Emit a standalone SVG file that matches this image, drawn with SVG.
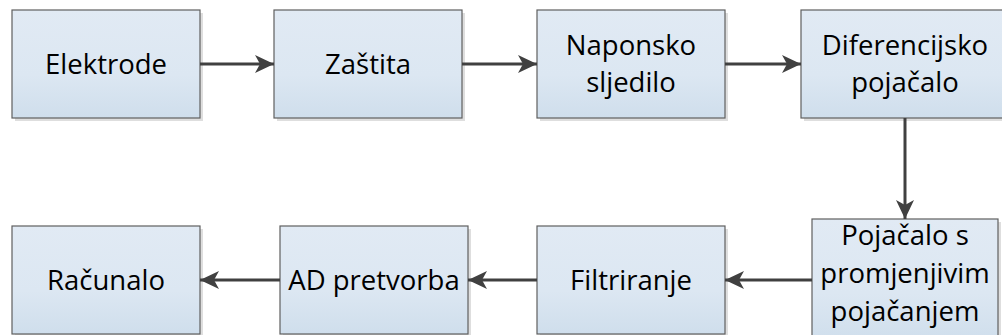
<svg xmlns="http://www.w3.org/2000/svg" width="1002" height="335" viewBox="0 0 1002 335">
<defs>
<linearGradient id="g" x1="0" y1="0" x2="0" y2="1">
<stop offset="0" stop-color="#e1eaf4"/>
<stop offset="0.6" stop-color="#dce7f2"/>
<stop offset="1" stop-color="#cfdeec"/>
</linearGradient>
<marker id="ah" markerWidth="19" markerHeight="18" refX="19" refY="9" orient="auto" markerUnits="userSpaceOnUse">
<path d="M0,0 L19,9 L0,18 L5,9 Z" fill="#404040"/>
</marker>
<style>
.sh{fill:#dedede}
.bx{fill:url(#g);stroke:#5f5f5f;stroke-width:1.2}
.t{font-family:"Open Sans","Liberation Sans",sans-serif;font-size:27.5px;fill:#000;text-anchor:middle}
.c{stroke:#404040;stroke-width:3;fill:none;marker-end:url(#ah)}
</style>
</defs>
<rect width="1002" height="335" fill="#fff"/>
<g id="elektrode"><rect class="sh" x="15" y="13" width="188" height="108"/><rect class="bx" x="12" y="10" width="188" height="108"/><text class="t" x="106" y="74">Elektrode</text></g>
<g id="zastita"><rect class="sh" x="277" y="13" width="188" height="108"/><rect class="bx" x="274" y="10" width="188" height="108"/><text class="t" x="368" y="74">Zaštita</text></g>
<g id="naponsko"><rect class="sh" x="540" y="13" width="188" height="108"/><rect class="bx" x="537" y="10" width="188" height="108"/><text class="t" x="631" y="55">Naponsko</text><text class="t" x="631" y="92">sljedilo</text></g>
<g id="diferencijsko"><rect class="sh" x="804" y="13" width="208" height="108"/><rect class="bx" x="801" y="10" width="208" height="108"/><text class="t" x="905" y="55">Diferencijsko</text><text class="t" x="905" y="92">pojačalo</text></g>
<g id="pojacalo"><rect class="sh" x="815" y="222" width="186" height="124"/><rect class="bx" x="812" y="219" width="186" height="124"/><text class="t" x="905" y="245">Pojačalo s</text><text class="t" x="905" y="283">promjenjivim</text><text class="t" x="905" y="321">pojačanjem</text></g>
<g id="filtriranje"><rect class="sh" x="540" y="229" width="188" height="108"/><rect class="bx" x="537" y="226" width="188" height="108"/><text class="t" x="631" y="290">Filtriranje</text></g>
<g id="ad"><rect class="sh" x="283" y="229" width="188" height="108"/><rect class="bx" x="280" y="226" width="188" height="108"/><text class="t" x="374" y="290">AD pretvorba</text></g>
<g id="racunalo"><rect class="sh" x="15" y="229" width="188" height="108"/><rect class="bx" x="12" y="226" width="188" height="108"/><text class="t" x="106" y="290">Računalo</text></g>
<g id="connectors">
<line class="c" x1="200" y1="64" x2="274" y2="64"/>
<line class="c" x1="462" y1="64" x2="537" y2="64"/>
<line class="c" x1="725" y1="64" x2="801" y2="64"/>
<line class="c" x1="905" y1="118" x2="905" y2="219"/>
<line class="c" x1="812" y1="280" x2="725" y2="280"/>
<line class="c" x1="537" y1="280" x2="468" y2="280"/>
<line class="c" x1="280" y1="280" x2="200" y2="280"/>
</g>
</svg>
